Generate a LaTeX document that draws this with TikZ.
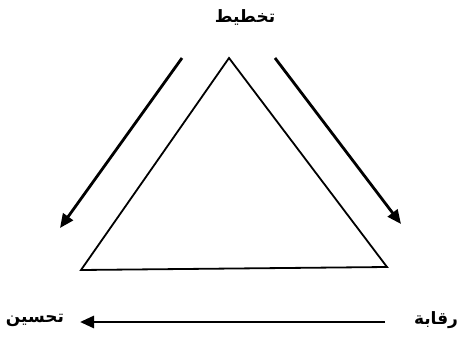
\documentclass[tikz,border=0pt]{standalone}
\usepackage{fontspec}
\usetikzlibrary{arrows.meta}
\TeXXeTstate=1
\newfontfamily\arabicfont[Script=Arabic]{DejaVu Sans Bold}
\begin{document}
\begin{tikzpicture}[x=1pt,y=-1pt,
  lbl/.style={font=\arabicfont\fontsize{17}{20}\selectfont, inner sep=0pt},
  tri/.style={line width=1.8pt, line join=miter},
  flow/.style={line width=2.8pt, -{Triangle[length=14pt,width=12pt]}}]
\useasboundingbox (0,0) rectangle (464,343);
% texts
\node[lbl] (plan) at (245,17) {\beginR تخطيط\endR};
\node[lbl] (impr) at (35,320) {\beginR تحسين\endR};
\node[lbl] (ctrl) at (436,320) {\beginR رقابة\endR};
% triangle
\coordinate (apex) at (229,58);
\coordinate (bl) at (81,270);
\coordinate (br) at (387,267);
\draw[tri] (apex) -- (bl) -- (br) -- cycle;
% arrows
\coordinate (ls) at (182,58);
\coordinate (le) at (60,228);
\coordinate (rs) at (275,58);
\coordinate (re) at (401,224);
\coordinate (bs) at (385,322);
\coordinate (be) at (80,322);
\draw[flow] (ls) -- (le);
\draw[flow] (rs) -- (re);
\draw[flow] (bs) -- (be);
\end{tikzpicture}
\end{document}
